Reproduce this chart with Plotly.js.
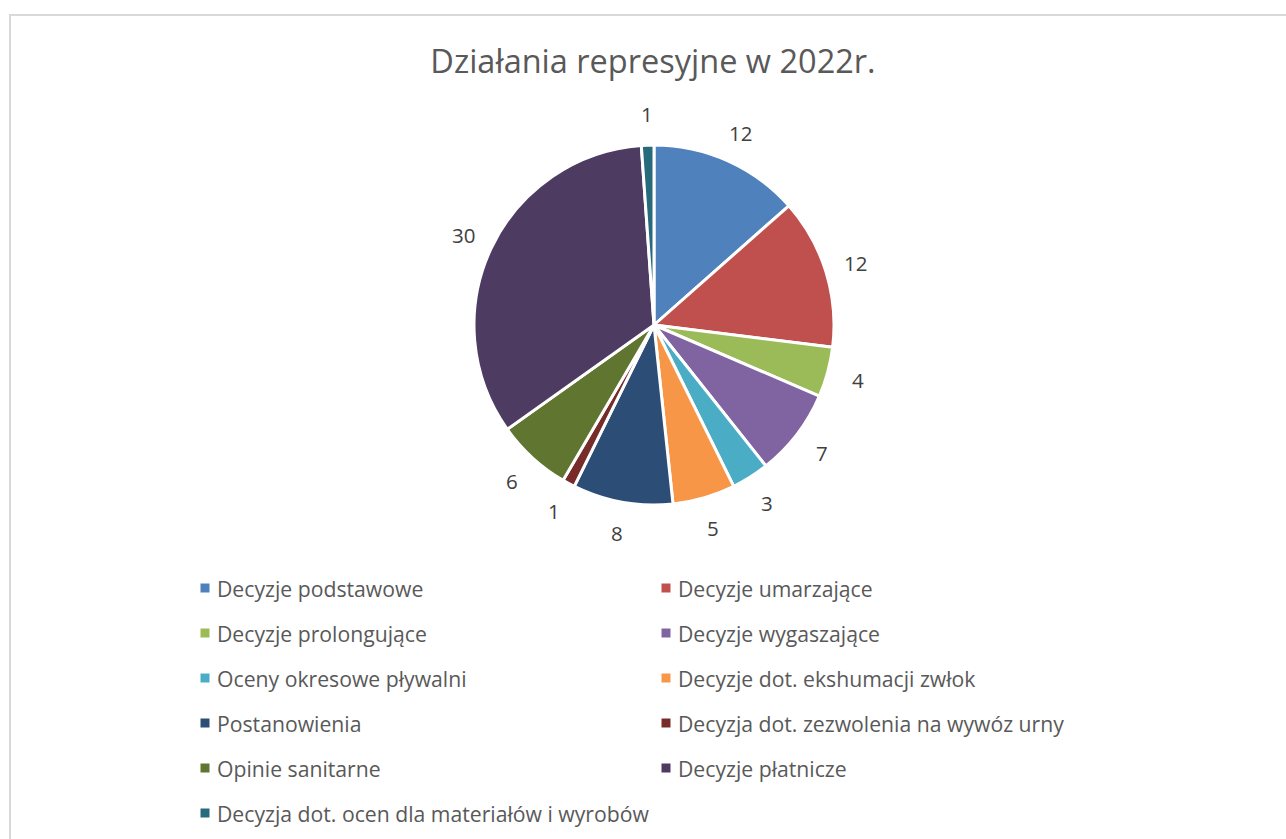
<!DOCTYPE html>
<html>
<head>
<meta charset="utf-8">
<script src="https://cdn.plot.ly/plotly-3.0.1.min.js"></script>
<style>
html,body{margin:0;padding:0;background:#fff;}
#chart{width:1286px;height:839px;}
</style>
</head>
<body>
<div id="chart"></div>
<script>
const categories = [
  "Decyzje podstawowe",
  "Decyzje umarzające",
  "Decyzje prolongujące",
  "Decyzje wygaszające",
  "Oceny okresowe pływalni",
  "Decyzje dot. ekshumacji zwłok",
  "Postanowienia",
  "Decyzja dot. zezwolenia na wywóz urny",
  "Opinie sanitarne",
  "Decyzje płatnicze",
  "Decyzja dot. ocen dla materiałów i wyrobów"
];
const values = [12, 12, 4, 7, 3, 5, 8, 1, 6, 30, 1];
const colors = ["#4F81BD","#C0504D","#9BBB59","#8064A2","#4BACC6","#F79646","#2C4D75","#772C2A","#5F7530","#4D3B62","#276A7C"];
const titleText = "Działania represyjne w 2022r.";

const W = 1286, H = 839;
const FONT = "'Open Sans', Lato, sans-serif";

// pie geometry (pixels)
const cx = 654, cy = 325, R = 180, labelR = 211;

const trace = {
  type: "pie",
  labels: categories,
  values: values,
  sort: false,
  direction: "clockwise",
  rotation: 0,
  marker: {colors: colors, line: {color: "#ffffff", width: 3}},
  textinfo: "none",
  showlegend: false,
  hoverinfo: "label+value",
  domain: {x: [(cx - R) / W, (cx + R) / W], y: [(H - cy - R) / H, (H - cy + R) / H]}
};

const shapes = [{
  type: "rect", xref: "paper", yref: "paper",
  x0: 10 / W, x1: 1300 / W, y0: -10 / H, y1: (H - 15) / H,
  line: {color: "#d9d9d9", width: 2}, fillcolor: "rgba(0,0,0,0)"
}];
const annotations = [];

// data labels placed outside each slice, at the slice's mid-angle
const total = values.reduce((a, b) => a + b, 0);
let cum = 0;
values.forEach((v) => {
  const mid = (cum + v / 2) / total * 2 * Math.PI;
  cum += v;
  const px = cx + labelR * Math.sin(mid);
  const py = cy - labelR * Math.cos(mid);
  annotations.push({
    xref: "paper", yref: "paper", x: px / W, y: (H - py) / H,
    xanchor: "center", yanchor: "middle", showarrow: false,
    text: String(v), font: {family: FONT, size: 20.5, color: "#404040"}
  });
});

// two-column legend
const colX = [205, 666];
const rowY0 = 588, rowStep = 45, sq = 9;
categories.forEach((c, i) => {
  const col = i % 2, row = Math.floor(i / 2);
  const x = colX[col], y = rowY0 + row * rowStep;
  shapes.push({
    type: "rect", xref: "paper", yref: "paper",
    x0: (x - sq / 2) / W, x1: (x + sq / 2) / W,
    y0: (H - y - sq / 2) / H, y1: (H - y + sq / 2) / H,
    fillcolor: colors[i], line: {width: 0}
  });
  annotations.push({
    xref: "paper", yref: "paper", x: (x + 10) / W, y: (H - y) / H,
    xanchor: "left", yanchor: "middle", showarrow: false,
    text: c, font: {family: FONT, size: 21.2, color: "#595959"}
  });
});

const layout = {
  width: W, height: H,
  margin: {l: 0, r: 0, t: 0, b: 0},
  paper_bgcolor: "#ffffff",
  title: {
    text: titleText,
    font: {family: FONT, size: 32.5, color: "#595959"},
    x: 653 / W, xanchor: "center", y: (H - 62) / H, yanchor: "middle"
  },
  shapes: shapes,
  annotations: annotations,
  showlegend: false
};

Plotly.newPlot("chart", [trace], layout, {displayModeBar: false, staticPlot: true});
</script>
</body>
</html>
